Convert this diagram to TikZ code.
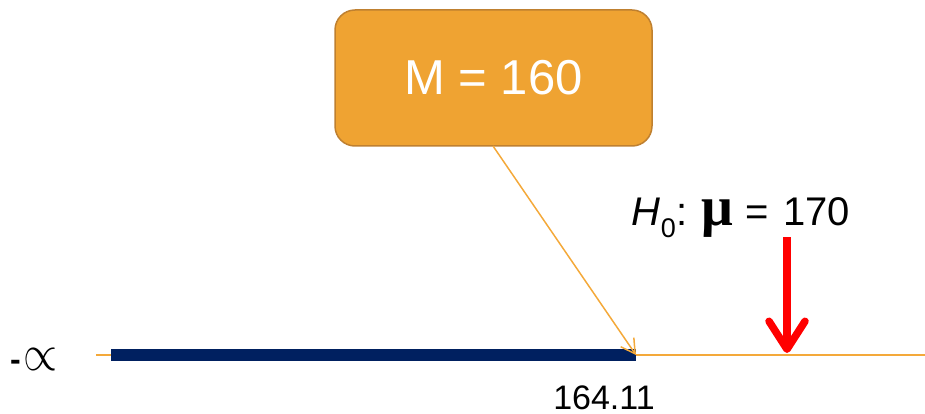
\documentclass[tikz,border=0pt]{standalone}
\usepackage{fontspec}
\usepackage{graphicx}
\setmainfont{Liberation Sans}
\newfontfamily\serifmu{Liberation Serif}
\usetikzlibrary{arrows.meta}
\definecolor{boxfill}{HTML}{EFA332}
\definecolor{boxedge}{HTML}{BF8030}
\definecolor{navy}{HTML}{002060}
\definecolor{axisorange}{HTML}{F4A93A}
\begin{document}
\begin{tikzpicture}[x=1pt,y=-1pt,
  mbox/.style={draw=boxedge, line width=1.5pt, fill=boxfill, rounded corners=20pt, minimum width=317pt, minimum height=136pt, inner sep=0pt, text=white, font=\fontsize{49}{52}\selectfont},
  lbl/.style={inner sep=0pt}]
\useasboundingbox (0,0) rectangle (925,414);
\node[mbox] (box) at (493.5,78) {M = 160};
% axis
\coordinate (axL) at (96,355);
\coordinate (axR) at (925,355);
\draw[axisorange, line width=1.2pt] (axL) -- (axR);
\coordinate (barL) at (111,355);
\coordinate (barR) at (636,355);
\draw[navy, line width=12pt] (barL) -- (barR);
% arrow from box
\coordinate (boxfoot) at (493,146);
\draw[axisorange, line width=1.5pt, -{Straight Barb[length=14pt,width=16pt]}] (boxfoot) -- (barR);
% red arrow
\coordinate (rtop) at (787,237);
\coordinate (rtip) at (787,353);
\draw[red, line width=7.5pt, -{Straight Barb[length=28pt,width=36pt, round]}] (rtop) -- (rtip);
% labels
\node[lbl, anchor=base east, font=\fontsize{40}{44}\selectfont] (h0) at (850,225) {\textit{H}\raisebox{-12pt}{\fontsize{27}{28}\selectfont 0}\hspace{1pt}:\hspace{14pt}{\serifmu\bfseries\fontsize{56}{58}\selectfont μ}\hspace{12pt}=\hspace{14pt}170};
\node[lbl, anchor=base, font=\fontsize{34}{38}\selectfont] (val) at (604,409) {164.11};
\node[lbl, anchor=base west] (minf) at (10,370) {{\fontsize{32}{32}\selectfont\bfseries -}\hspace{3pt}\resizebox{34pt}{22pt}{$\propto$}};
\end{tikzpicture}
\end{document}
